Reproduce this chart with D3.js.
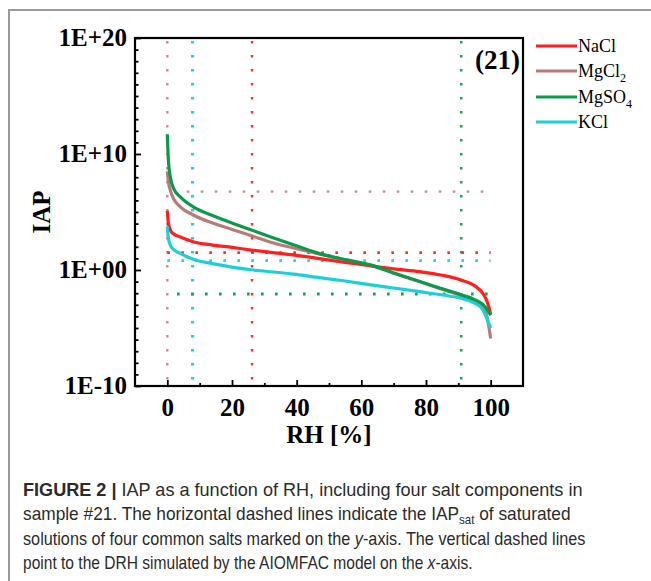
<!DOCTYPE html>
<html>
<head>
<meta charset="utf-8">
<script src="https://cdn.jsdelivr.net/npm/d3@7"></script>
<style>
  body { margin: 0; background: #fff; }
  svg { display: block; }
</style>
</head>
<body>
<div id="chart"></div>
<script>
// RH grid (%) and log10(IAP)
var rh = [0, 0.3, 1, 2, 4, 8, 14, 20, 26, 32, 39, 46, 55, 63, 70, 78, 85, 91, 95, 97.5, 99, 100];
var nacl  = [5.1, 4.1, 3.4, 3.1, 2.85, 2.44, 2.15, 1.95, 1.72, 1.52, 1.3, 1.02, 0.65, 0.36, 0.1, -0.14, -0.45, -0.88, -1.35, -2.0, -2.8, -3.8];
var mgcl2 = [8.5, 7.7, 6.8, 6.1, 5.45, 4.74, 4.05, 3.5, 2.95, 2.4, 1.9, 1.45, 0.87, 0.4, -0.28, -1.0, -1.66, -2.22, -2.65, -3.1, -4.2, -5.9];
var mgso4 = [11.7, 9.6, 7.9, 7.0, 6.3, 5.45, 4.7, 4.05, 3.45, 2.85, 2.17, 1.5, 0.9, 0.42, -0.25, -1.0, -1.62, -2.15, -2.55, -2.95, -3.45, -3.9];
var kcl   = [3.75, 2.8, 2.1, 1.75, 1.44, 0.92, 0.55, 0.25, 0.02, -0.15, -0.36, -0.62, -0.95, -1.28, -1.55, -1.87, -2.15, -2.45, -2.85, -3.4, -4.3, -5.0];

var seriesNames  = ["NaCl", "MgCl2", "MgSO4", "KCl"];
var seriesColors = ["#ff1f1f", "#b97a7a", "#0b9a4c", "#1dcfd6"];
var dotColors    = ["#ff2a2a", "#c48c8c", "#10a050", "#1fd2da"];

// saturated IAP (log10) -> horizontal dotted lines, DRH (%) -> vertical dotted lines
var iapSat   = [1.5, 6.75, -2.07, 0.8];
var iapStart = [0, 6, 3, 0];
var drh      = [26.2, 0, 90.9, 7.8];

var xTicks = [0, 20, 40, 60, 80, 100];
var xMinor = [10, 30, 50, 70, 90];
var yTicks = [-10, 0, 10, 20];

var W = 651, H = 581;
var margin = {top: 38, left: 135, right: 128, bottom: 195};
var width = W - margin.left - margin.right,
    height = H - margin.top - margin.bottom;

var svg = d3.select("#chart").append("svg")
  .attr("width", W)
  .attr("height", H);

// page frame
svg.append("path")
  .attr("d", "M9,581 V10 H651")
  .attr("fill", "none")
  .attr("stroke", "#9a9a9a")
  .attr("stroke-width", 2);

var g = svg.append("g")
  .attr("transform", "translate(" + margin.left + "," + margin.top + ")");

var x = d3.scaleLinear().domain([-10, 110]).range([0, width]);
var y = d3.scaleLog().domain([1e-10, 1e20]).range([height, 0]);

function fmt(v) {
  var e = Math.round(Math.log10(v));
  var s = String(Math.abs(e)).padStart(2, "0");
  return "1E" + (e < 0 ? "-" : "+") + s;
}

var serif = "'Liberation Serif', 'Times New Roman', serif";

// x axis: major and minor inward ticks
var xAxis = g.append("g")
  .attr("transform", "translate(0," + height + ")")
  .call(d3.axisBottom(x).tickValues(xTicks).tickSize(-6).tickPadding(12).tickFormat(d3.format("d")));
g.append("g")
  .attr("transform", "translate(0," + height + ")")
  .call(d3.axisBottom(x).tickValues(xMinor).tickSize(-3).tickFormat(""))
  .select(".domain").remove();
xAxis.select(".domain").remove();
xAxis.selectAll("text")
  .attr("font-family", serif).attr("font-weight", "bold").attr("font-size", 25).attr("fill", "#000");

// y axis
var minorDec = d3.range(-10, 21).filter(function(d) { return d % 10 !== 0; }).map(function(d) { return Math.pow(10, d); });
var yAxis = g.append("g")
  .call(d3.axisLeft(y).tickValues(yTicks.map(function(d) { return Math.pow(10, d); })).tickSize(-6).tickPadding(8).tickFormat(fmt));
g.append("g")
  .call(d3.axisLeft(y).tickValues(minorDec).tickSize(-3.5).tickFormat(""))
  .select(".domain").remove();
yAxis.select(".domain").remove();
yAxis.selectAll("text")
  .attr("font-family", serif).attr("font-weight", "bold").attr("font-size", 25).attr("fill", "#000")
  .attr("dy", "0.3em");
g.selectAll(".tick line").attr("stroke", "#000").attr("stroke-width", 1.8);

// clip so dotted lines stay inside the box
g.append("clipPath").attr("id", "clip")
  .append("rect").attr("width", width).attr("height", height);
var plot = g.append("g").attr("clip-path", "url(#clip)");

// vertical DRH dotted lines
plot.selectAll(".vline")
  .data(drh)
  .enter().append("line")
  .attr("x1", function(d) { return x(d); })
  .attr("x2", function(d) { return x(d); })
  .attr("y1", 3)
  .attr("y2", height)
  .attr("stroke", function(d, i) { return dotColors[i]; })
  .attr("stroke-width", function(d, i) { return i === 3 ? 3.2 : 2.4; })
  .attr("stroke-dasharray", "2.6 11.4");

// horizontal IAP_sat dotted lines
plot.selectAll(".hline")
  .data(iapSat)
  .enter().append("line")
  .attr("x1", function(d, i) { return x(iapStart[i]); })
  .attr("x2", x(100))
  .attr("y1", function(d) { return y(Math.pow(10, d)); })
  .attr("y2", function(d) { return y(Math.pow(10, d)); })
  .attr("stroke", function(d, i) { return dotColors[i]; })
  .attr("stroke-width", function(d, i) { return i === 1 ? 2.2 : 2.8; })
  .attr("stroke-dasharray", "2.6 11.4");

// curves
var allSeries = [nacl, mgcl2, mgso4, kcl];
var line = d3.line()
  .x(function(d) { return x(d[0]); })
  .y(function(d) { return y(Math.pow(10, d[1])); })
  .curve(d3.curveMonotoneX);

var drawOrder = [1, 0, 3, 2];
drawOrder.forEach(function(i) {
  var pts = rh.map(function(r, k) { return [r, allSeries[i][k]]; });
  plot.append("path")
    .datum(pts)
    .attr("d", line)
    .attr("fill", "none")
    .attr("stroke", seriesColors[i])
    .attr("stroke-width", 3.2)
    .attr("stroke-linejoin", "round");
});

// frame
g.append("rect")
  .attr("width", width).attr("height", height)
  .attr("fill", "none").attr("stroke", "#000").attr("stroke-width", 2.2);

// panel label
g.append("text")
  .attr("x", width - 3).attr("y", 31)
  .attr("text-anchor", "end")
  .attr("font-family", serif).attr("font-weight", "bold").attr("font-size", 27)
  .text("(21)");

// axis titles
svg.append("text")
  .attr("x", margin.left + width / 2).attr("y", 443)
  .attr("text-anchor", "middle")
  .attr("font-family", serif).attr("font-weight", "bold").attr("font-size", 25)
  .text("RH [%]");

svg.append("text")
  .attr("transform", "translate(50," + (margin.top + height / 2) + ") rotate(-90)")
  .attr("text-anchor", "middle")
  .attr("font-family", serif).attr("font-weight", "bold").attr("font-size", 25)
  .text("IAP");

// legend
var legendY = [46, 71, 97, 122];
var legend = svg.append("g");
seriesNames.forEach(function(name, i) {
  legend.append("line")
    .attr("x1", 536).attr("x2", 577)
    .attr("y1", legendY[i]).attr("y2", legendY[i])
    .attr("stroke", seriesColors[i]).attr("stroke-width", 3.2);
  var t = legend.append("text")
    .attr("x", 578).attr("y", legendY[i] + 6)
    .attr("font-family", serif).attr("font-size", 18);
  var m = name.match(/^(.*?)(\d)$/);
  if (m) {
    t.append("tspan").text(m[1]);
    t.append("tspan").attr("font-size", 12).attr("dy", 5).text(m[2]);
  } else {
    t.text(name);
  }
});

// caption: each line squeezed horizontally to the reference width
var sans = "'Liberation Sans', Arial, sans-serif";
var cap = svg.append("g").attr("font-family", sans).attr("font-size", 18).attr("fill", "#2b2b2b");

function capLine(yPos, targetW, parts) {
  var t = cap.append("text");
  parts.forEach(function(p) {
    var s = t.append("tspan").text(p.t);
    if (p.b) s.attr("font-weight", "bold");
    if (p.i) s.attr("font-style", "italic");
    if (p.sub) s.attr("font-size", 12).attr("dy", 4);
    if (p.up) s.attr("dy", -4);
  });
  var w = t.node().getComputedTextLength();
  t.attr("transform", "translate(23," + yPos + ") scale(" + (targetW / w) + ",1)");
}

capLine(496, 560, [{t: "FIGURE 2 | ", b: true}, {t: "IAP as a function of RH, including four salt components in"}]);
capLine(520, 548, [{t: "sample #21. The horizontal dashed lines indicate the IAP"}, {t: "sat", sub: true}, {t: " of saturated", up: true}]);
capLine(545, 563, [{t: "solutions of four common salts marked on the "}, {t: "y", i: true}, {t: "-axis. The vertical dashed lines"}]);
capLine(569, 450, [{t: "point to the DRH simulated by the AIOMFAC model on the "}, {t: "x", i: true}, {t: "-axis."}]);
</script>
</body>
</html>
